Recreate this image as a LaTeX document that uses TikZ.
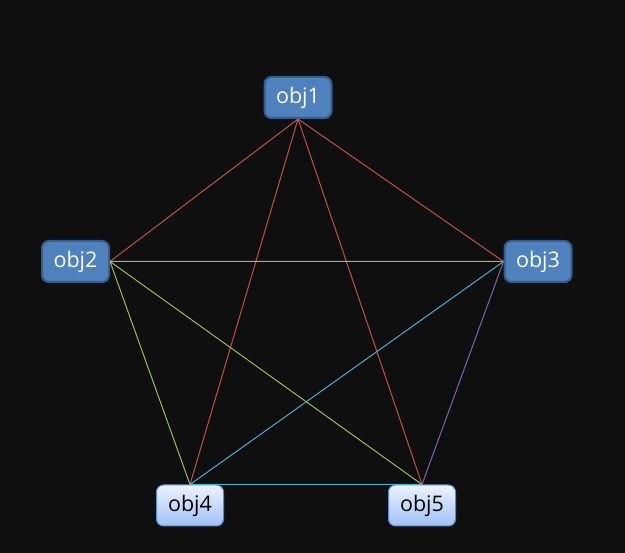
\documentclass[tikz,border=0pt]{standalone}
\usepackage{fontspec}
\setmainfont{Open Sans}
\usetikzlibrary{positioning}
\definecolor{bgdark}{RGB}{15,15,15}
\definecolor{objfill}{RGB}{79,129,189}
\definecolor{objedge}{RGB}{56,93,138}
\definecolor{litetop}{RGB}{236,243,255}
\definecolor{litebot}{RGB}{160,192,245}
\definecolor{liteedge}{RGB}{92,140,205}
\definecolor{linkred}{RGB}{192,80,77}
\definecolor{linkgreen}{RGB}{155,187,89}
\definecolor{linkcyan}{RGB}{75,172,198}
\definecolor{linkpurple}{RGB}{128,100,162}

\begin{document}
\begin{tikzpicture}[
      x=1pt, y=-1pt, on grid,
      obj/.style={rectangle, rounded corners=7pt, minimum width=67pt, minimum height=41pt,
        font=\fontsize{21.5}{24}\selectfont},
      darkobj/.style={obj, fill=objfill, draw=objedge, line width=2pt, text=white},
      liteobj/.style={obj, top color=litetop, bottom color=litebot, draw=liteedge, line width=1pt, text=black},
      link/.style={line width=1pt},
      ]

      \fill[bgdark] (0,0) rectangle (625,553);

      \node[darkobj]  (obj1) at (298,97.5)                        {obj1};
      \node[darkobj]  (obj2) [below left=164pt and 222.5pt of obj1]  {obj2};
      \node[darkobj]  (obj3) [below right=164pt and 240pt of obj1]   {obj3};
      \node[liteobj]  (obj4) [below left=408pt and 108pt of obj1]    {obj4};
      \node[liteobj]  (obj5) [below right=408pt and 124pt of obj1]   {obj5};

      \draw[link, linkred] (obj1.south) -- (obj2.east)
                           (obj1.south) -- (obj3.west)
                           (obj1.south) -- (obj4.north)
                           (obj1.south) -- (obj5.north);
      \draw[link, linkgreen] (obj2.east) -- (obj3.west)
                             (obj2.east) -- (obj4.north)
                             (obj2.east) -- (obj5.north);
      \draw[link, linkcyan] (obj3.west) -- (obj4.north)
                            (obj4.north) -- (obj5.north);
      \draw[link, linkpurple] (obj3.west) -- (obj5.north);
    \end{tikzpicture}
\end{document}
